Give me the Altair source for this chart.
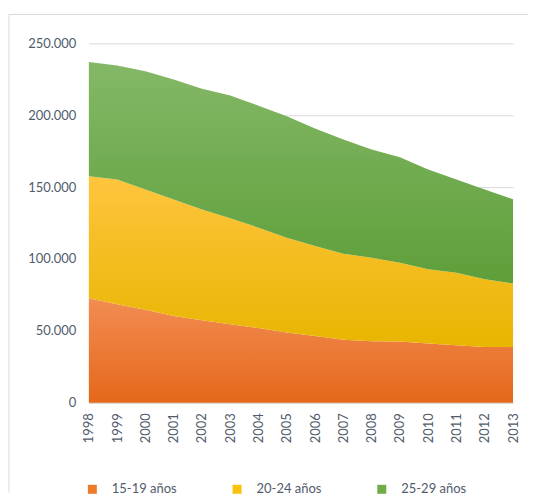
import altair as alt
import pandas as pd

years = [1998, 1999, 2000, 2001, 2002, 2003, 2004, 2005, 2006, 2007, 2008, 2009, 2010, 2011, 2012, 2013]
series = ["15-19 años", "20-24 años", "25-29 años"]
s1519 = [72700, 68500, 64600, 60400, 57400, 54600, 51900, 48800, 46500, 43800, 42800, 42600, 41200, 40000, 38700, 38700]
s2024 = [84900, 86800, 83800, 81000, 77100, 73700, 69900, 66000, 62500, 59900, 58100, 54800, 51600, 50500, 47200, 44200]
s2529 = [79400, 79400, 82200, 83400, 84000, 85400, 84900, 84500, 81800, 79400, 75300, 73400, 69500, 64800, 62500, 58600]
y_ticks = [0, 50000, 100000, 150000, 200000, 250000]

legend_colors = ["#EE7A2C", "#FBC20D", "#70AD47"]
grad_stops = [("#F28C52", "#E5681B"), ("#FEC53E", "#E8B500"), ("#84B867", "#5E9F39")]

rows = []
for i, s in enumerate(series):
    vals = [s1519, s2024, s2529][i]
    for y, v in zip(years, vals):
        rows.append({"year": y, "series": s, "order": i, "value": v})
df = pd.DataFrame(rows)

FONT = "Lato"
TXT = "#505B6B"
GRID = "#D9D9D9"

x_enc = alt.X("year:Q", scale=alt.Scale(domain=[1998, 2013], nice=False, zero=False),
              axis=alt.Axis(values=years, format="d", labelAngle=270, ticks=False, grid=False,
                            labelOverlap=False, labelFlush=False, labelBound=False,
                            domainColor=GRID, domainWidth=1.5, labelPadding=10, title=None,
                            labelFont=FONT, labelFontSize=13, labelColor=TXT))
y_scale = alt.Scale(domain=[0, 250000], nice=False)
y_axis = alt.Axis(values=y_ticks, labelExpr="replace(format(datum.value, ','), ',', '.')",
                  domain=False, ticks=False, labelPadding=13, gridColor=GRID, gridWidth=1,
                  labelOverlap=False, labelFlush=False,
                  title=None, labelFont=FONT, labelFontSize=13, labelColor=TXT)

base = alt.Chart(df).transform_stack(
    stack="value", groupby=["year"], as_=["y0", "y1"], sort=[alt.SortField("order")]
)

layers = []
for i, s in enumerate(series):
    top, bot = grad_stops[i]
    grad = alt.Gradient(gradient="linear",
                        stops=[alt.GradientStop(color=top, offset=0), alt.GradientStop(color=bot, offset=1)],
                        x1=0, x2=0, y1=0, y2=1)
    layer = base.transform_filter(alt.datum.series == s).mark_area(color=grad).encode(
        x=x_enc,
        y=alt.Y("y1:Q", scale=y_scale, axis=y_axis),
        y2="y0:Q",
    )
    layers.append(layer)

legend_layer = base.mark_square(opacity=0).encode(
    x=x_enc,
    y=alt.Y("y1:Q", scale=y_scale, axis=y_axis),
    color=alt.Color("series:N", scale=alt.Scale(domain=series, range=legend_colors),
                    legend=alt.Legend(title=None, orient="none", legendX=-3, legendY=440,
                                      direction="horizontal", symbolType="square", symbolSize=81,
                                      symbolOpacity=1, symbolStrokeWidth=0, labelOffset=13,
                                      columnPadding=53, gridAlign="all", padding=0,
                                      labelFont=FONT, labelFontSize=13, labelColor=TXT)),
)

frame_data = alt.Data(values=[{"k": 1}])
frame_top = alt.Chart(frame_data).mark_rule(color=GRID, strokeWidth=1).encode(
    x=alt.value(-80), x2=alt.value(440), y=alt.value(-29))
frame_left = alt.Chart(frame_data).mark_rule(color=GRID, strokeWidth=1).encode(
    x=alt.value(-80), y=alt.value(-29), y2=alt.value(450))

chart = alt.layer(*layers, legend_layer, frame_top, frame_left).properties(
    width=425, height=360, padding={"left": 0, "top": 5, "right": 0, "bottom": 0}
).configure_view(strokeWidth=0)

chart.save("out.html", embed_options={"renderer": "svg", "actions": False})
